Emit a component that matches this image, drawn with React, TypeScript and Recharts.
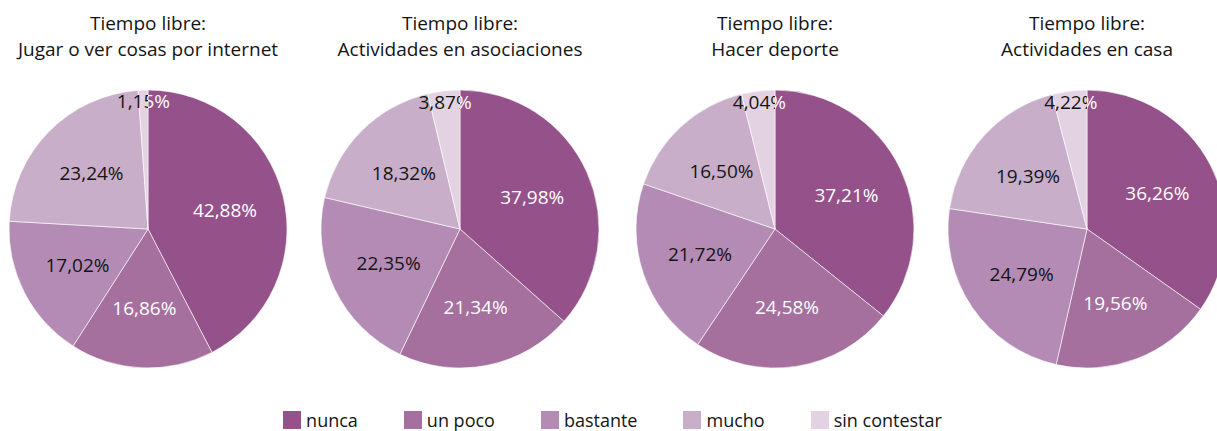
import React from "react";
import { PieChart, Pie, Cell, Legend } from "recharts";

// categories and colours
const categories = ["nunca", "un poco", "bastante", "mucho", "sin contestar"];
const colors = ["#955189", "#a56f9e", "#b48bb4", "#c9aeca", "#e3d2e2"];

// chart titles (second line)
const titles = [
  "Jugar o ver cosas por internet",
  "Actividades en asociaciones",
  "Hacer deporte",
  "Actividades en casa",
];

// percentages per chart, in category order
const jugarInternet = [42.88, 16.86, 17.02, 23.24, 1.15];
const asociaciones = [37.98, 21.34, 22.35, 18.32, 3.87];
const deporte = [37.21, 24.58, 21.72, 16.5, 4.04];
const casa = [36.26, 19.56, 24.79, 19.39, 4.22];

const series = [jugarInternet, asociaciones, deporte, casa];
const centersX = [148, 460, 775, 1087];

const FONT = "'Open Sans', sans-serif";
const DARK = "#141414";
const RADIAN = Math.PI / 180;

const fmt = (v: number) => v.toFixed(2).replace(".", ",") + "%";

const renderLabel = (props: any) => {
  const { cx, cy, midAngle, outerRadius, value, index } = props;
  const small = value < 5;
  const r = small ? outerRadius * 0.92 : outerRadius * 0.57;
  const x = cx + r * Math.cos(-midAngle * RADIAN);
  const y = cy + r * Math.sin(-midAngle * RADIAN);
  const common = {
    x,
    y,
    textAnchor: "middle" as const,
    dominantBaseline: "central" as const,
    fontSize: 19,
    fontFamily: FONT,
  };
  if (small) {
    // the part of the label lying over the "nunca" slice is drawn white
    const id = `clip-${Math.round(cx)}`;
    return (
      <g>
        <defs>
          <clipPath id={`${id}-l`}>
            <rect x={cx - 200} y={cy - 200} width={200} height={400} />
          </clipPath>
          <clipPath id={`${id}-r`}>
            <rect x={cx} y={cy - 200} width={200} height={400} />
          </clipPath>
        </defs>
        <text {...common} fill={DARK} clipPath={`url(#${id}-l)`}>
          {fmt(value)}
        </text>
        <text {...common} fill="#ffffff" clipPath={`url(#${id}-r)`}>
          {fmt(value)}
        </text>
      </g>
    );
  }
  return (
    <text {...common} fill={index < 2 ? "#ffffff" : DARK}>
      {fmt(value)}
    </text>
  );
};

const renderLegend = () => (
  <div
    style={{
      display: "flex",
      justifyContent: "center",
      gap: 46,
      fontFamily: FONT,
      fontSize: 18,
      lineHeight: "20px",
      color: DARK,
      paddingLeft: 8,
    }}
  >
    {categories.map((c, i) => (
      <div key={c} style={{ display: "flex", alignItems: "center" }}>
        <span
          style={{
            display: "inline-block",
            width: 18,
            height: 18,
            background: colors[i],
            marginRight: 5,
          }}
        />
        <span>{c}</span>
      </div>
    ))}
  </div>
);

export default function App() {
  return (
    <div style={{ position: "absolute", left: 0, top: 0, width: 1217, height: 431, background: "#fff", overflow: "hidden" }}>
      {titles.map((t, i) => (
        <div
          key={t}
          style={{
            position: "absolute",
            left: centersX[i] - 150,
            width: 300,
            top: 10,
            textAlign: "center",
            fontFamily: FONT,
            fontSize: 19,
            lineHeight: "26px",
            color: DARK,
          }}
        >
          Tiempo libre:
          <br />
          {t}
        </div>
      ))}
      <PieChart width={1217} height={431} margin={{ top: 0, right: 0, bottom: 0, left: 0 }}>
        {series.map((vals, p) => (
          <Pie
            key={p}
            data={categories.map((name, i) => ({ name, value: vals[i] }))}
            dataKey="value"
            nameKey="name"
            cx={centersX[p]}
            cy={229}
            outerRadius={139}
            startAngle={90}
            endAngle={-270}
            stroke="#ffffff"
            strokeWidth={0.6}
            label={renderLabel}
            labelLine={false}
            isAnimationActive={false}
          >
            {vals.map((_, i) => (
              <Cell key={`cell-${i}`} fill={colors[i]} />
            ))}
          </Pie>
        ))}
        <Legend
          verticalAlign="bottom"
          content={renderLegend}
          wrapperStyle={{ left: 0, width: 1217, bottom: 1 }}
        />
      </PieChart>
    </div>
  );
}
